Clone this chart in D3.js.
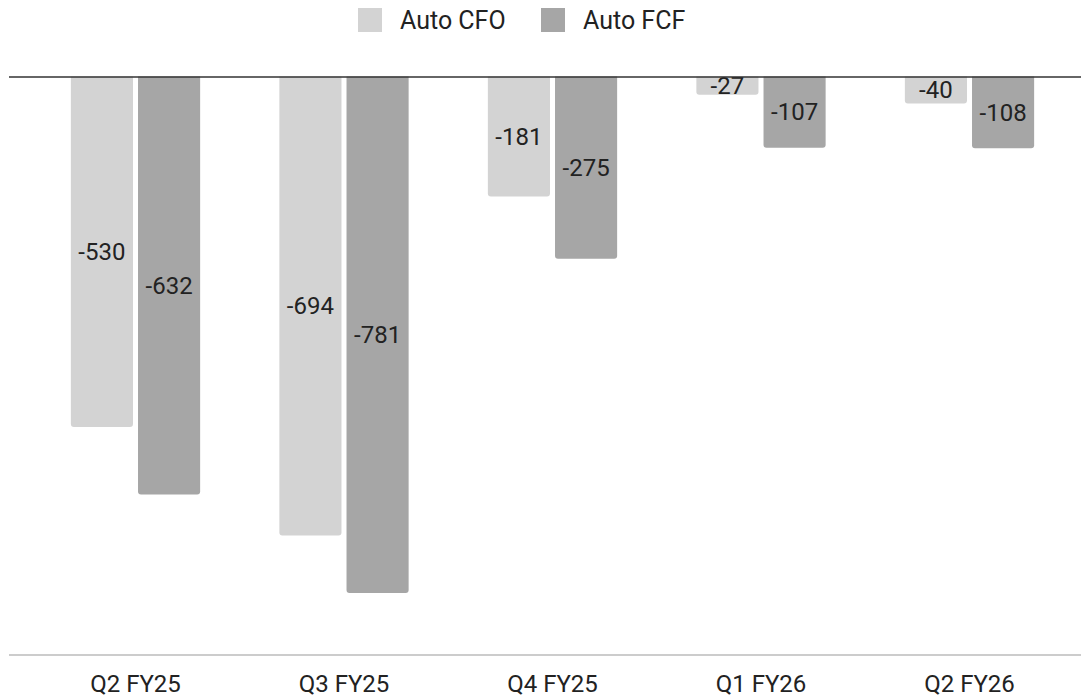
<!DOCTYPE html>
<html>
<head>
<meta charset="utf-8">
<script src="https://cdn.jsdelivr.net/npm/d3@7"></script>
<style>
  html, body { margin: 0; padding: 0; background: #fff; }
  svg { display: block; font-family: Roboto, "Noto Sans", sans-serif; }
</style>
</head>
<body>
<svg id="chart" width="1081" height="700"></svg>
<script>
// Quarterly automotive cash flow (₹ crore)
const categories = ["Q2 FY25", "Q3 FY25", "Q4 FY25", "Q1 FY26", "Q2 FY26"];
const seriesNames = ["Auto CFO", "Auto FCF"];
const autoCFO = [-530, -694, -181, -27, -40];
const autoFCF = [-632, -781, -275, -107, -108];
const seriesColors = ["#d3d3d3", "#a6a6a6"];

const rows = categories.map((c, i) => ({ cat: c, values: [autoCFO[i], autoFCF[i]] }));

const svg = d3.select("#chart");
const W = 1081, H = 700;

const y = d3.scaleLinear().domain([-875, 0]).range([655, 77]);

const x0 = d3.scaleBand()
  .domain(categories)
  .range([31.25, 1073.75])
  .paddingInner(0.38)
  .paddingOuter(0.19);

const x1 = d3.scaleBand()
  .domain(seriesNames)
  .range([0, x0.bandwidth()])
  .paddingInner(0.075)
  .paddingOuter(0);

// baseline axis at the bottom
svg.append("line")
  .attr("x1", 9).attr("x2", W)
  .attr("y1", 655).attr("y2", 655)
  .attr("stroke", "#cccccc").attr("stroke-width", 2);

const groups = svg.append("g").selectAll("g")
  .data(rows).join("g")
  .attr("transform", d => `translate(${x0(d.cat)},0)`);

const barData = d => d.values.map((v, j) => ({ key: seriesNames[j], value: v, j }));

groups.selectAll("rect")
  .data(barData).join("rect")
  .attr("x", d => x1(d.key))
  .attr("y", d => y(0) - 4)
  .attr("width", x1.bandwidth())
  .attr("height", d => y(d.value) - y(0) + 4)
  .attr("rx", 3).attr("ry", 3)
  .attr("fill", d => seriesColors[d.j]);

groups.selectAll("text")
  .data(barData).join("text")
  .attr("x", d => x1(d.key) + x1.bandwidth() / 2)
  .attr("y", d => (y(0) + y(d.value)) / 2)
  .attr("text-anchor", "middle")
  .attr("dominant-baseline", "central")
  .attr("font-size", 24)
  .attr("fill", "#222")
  .text(d => d.value);

// white mask above zero so the rounded top corners are hidden
svg.append("rect").attr("x", 0).attr("y", 72).attr("width", W).attr("height", 4.5).attr("fill", "#fff");

// zero line
svg.append("line")
  .attr("x1", 9).attr("x2", W)
  .attr("y1", y(0)).attr("y2", y(0))
  .attr("stroke", "#333").attr("stroke-width", 1.6);

// category axis labels
const xAxis = d3.axisBottom(x0).tickSize(0).tickPadding(0);
const ax = svg.append("g").attr("transform", "translate(0,675)").call(xAxis);
ax.select(".domain").remove();
ax.selectAll("text")
  .attr("font-family", "Roboto, sans-serif")
  .attr("font-size", 24)
  .attr("fill", "#222")
  .attr("dy", "0.71em");

// legend
const legendX = [358, 541];
const legend = svg.append("g").selectAll("g")
  .data(seriesNames).join("g")
  .attr("transform", (d, i) => `translate(${legendX[i]},8)`);
legend.append("rect")
  .attr("width", 24).attr("height", 24)
  .attr("fill", (d, i) => seriesColors[i]);
legend.append("text")
  .attr("x", 42).attr("y", 12)
  .attr("dominant-baseline", "central")
  .attr("font-size", 25)
  .attr("fill", "#222")
  .text(d => d);
</script>
</body>
</html>
